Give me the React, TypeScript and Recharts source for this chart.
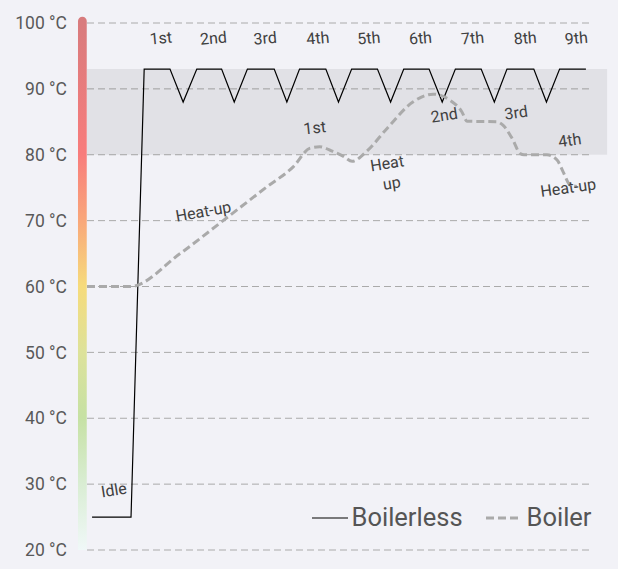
import React from 'react';
import {
  ComposedChart,
  Line,
  XAxis,
  YAxis,
  CartesianGrid,
  ReferenceArea,
  ReferenceDot,
} from 'recharts';

// ---- data ----
const boilerlessTime = [1.0, 8.7, 11.3, 16.4, 19.0, 21.7, 26.6, 29.1, 31.7, 37.0, 39.5, 42.0, 47.2, 49.7, 52.3, 57.4, 60.0, 62.6, 67.6, 70.2, 72.8, 77.9, 80.5, 83.0, 88.3, 90.8, 93.4, 98.6];
const boilerlessTemp = [25, 25, 93, 93, 88, 93, 93, 88, 93, 93, 88, 93, 93, 88, 93, 93, 88, 93, 93, 88, 93, 93, 88, 93, 93, 88, 93, 93];

const boilerTime = [0, 8.5, 18.4, 26.9, 35.5, 40.8, 44.1, 46.0, 48.6, 50.6, 52.4, 55.1, 59.3, 64.4, 68.4, 71.7, 74.1, 75.1, 81.0, 82.2, 84.0, 85.6, 86.4, 90.9, 92.9, 94.1, 95.5, 96.8];
const boilerTemp = [60, 60, 65, 70, 75.1, 78.2, 81, 81.2, 80.5, 79.8, 79, 80.4, 84, 88, 89.2, 88.3, 86.5, 85.1, 85, 84.5, 82.5, 80.2, 80, 80, 79.2, 77.4, 75.4, 75.2];

const tempTicks = [20, 30, 40, 50, 60, 70, 80, 90, 100];

const cycleLabels = ['1st', '2nd', '3rd', '4th', '5th', '6th', '7th', '8th', '9th'];
const cycleLabelTime = [14.6, 25.0, 35.2, 45.6, 55.7, 65.9, 76.2, 86.6, 96.7];
const cycleLabelTemp = 97.7;

const noteTexts = ['Idle', 'Heat-up', '1st', 'Heat', 'up', '2nd', '3rd', '4th', 'Heat-up'];
const noteTime = [5.3, 23.0, 45.0, 59.3, 60.2, 70.6, 84.8, 95.4, 95.1];
const noteTemp = [29.1, 71.4, 84.1, 78.7, 75.7, 86.0, 86.4, 82.2, 75.0];
const noteAngle = [-9, -10, -6, -9, -9, -9, -8, -8, -8];

const seriesNames = ['Boilerless', 'Boiler'];

// shaded brewing band
const bandLow = 80;
const bandHigh = 93;

const boilerlessData = boilerlessTime.map((t, i) => ({ t, v: boilerlessTemp[i] }));
const boilerData = boilerTime.map((t, i) => ({ t, v: boilerTemp[i] }));

const FONT = 'Roboto, "Liberation Sans", sans-serif';

const makeText = (text: string, angle: number, size: number, color: string) => (props: any) => {
  const { cx, cy } = props;
  return (
    <text
      x={cx}
      y={cy}
      textAnchor="middle"
      dominantBaseline="central"
      fontFamily={FONT}
      fontSize={size}
      fill={color}
      transform={`rotate(${angle} ${cx} ${cy})`}
    >
      {text}
    </text>
  );
};

const BarShape = (props: any) => {
  const { x, y, width, height } = props;
  const r = width / 2;
  const d = `M${x},${y + height} L${x},${y + r} A${r},${r} 0 0 1 ${x + width},${y + r} L${x + width},${y + height} Z`;
  return <path d={d} fill="url(#tempBarGrad)" />;
};

const LegendBox = () => (
  <svg
    width={310}
    height={40}
    style={{ position: 'absolute', left: 300, top: 495, overflow: 'visible' }}
  >
    <line x1={12} y1={23} x2={48} y2={23} stroke="#000" strokeWidth={1.2} />
    <text x={51.5} y={30.7} fontFamily={FONT} fontSize={25.5} fill="#555">{seriesNames[0]}</text>
    <line x1={186} y1={23} x2={220} y2={23} stroke="#aaa" strokeWidth={3} strokeDasharray="8 4" />
    <text x={226.5} y={30.7} fontFamily={FONT} fontSize={25.5} fill="#555">{seriesNames[1]}</text>
  </svg>
);

export default function App() {
  return (
    <div style={{ position: 'absolute', left: 0, top: 0, width: 618, height: 569, background: '#f2f2f7' }}>
      <ComposedChart width={618} height={569} margin={{ top: 23, right: 25, bottom: 19, left: 0 }}>
        <defs>
          <linearGradient id="tempBarGrad" x1="0" y1="0" x2="0" y2="1">
            <stop offset="0" stopColor="#d77b7d" />
            <stop offset="0.257" stopColor="#f87c7c" />
            <stop offset="0.382" stopColor="#f9a77a" />
            <stop offset="0.505" stopColor="#f6db7b" />
            <stop offset="0.629" stopColor="#dde29a" />
            <stop offset="0.752" stopColor="#c6e1a4" />
            <stop offset="0.876" stopColor="#d9edd3" />
            <stop offset="1" stopColor="#f0f8f8" />
          </linearGradient>
        </defs>
        <CartesianGrid vertical={false} stroke="#aaa" strokeDasharray="7 4" />
        <ReferenceArea
          x1={0}
          x2={102.8}
          y1={bandLow}
          y2={bandHigh}
          ifOverflow="visible"
          fill="#000"
          fillOpacity={0.065}
          stroke="none"
        />
        <ReferenceArea
          x1={-1.78}
          x2={-0.05}
          y1={20}
          y2={100.96}
          ifOverflow="visible"
          shape={BarShape}
        />
        <XAxis type="number" dataKey="t" domain={[0, 100]} hide allowDataOverflow />
        <YAxis
          type="number"
          domain={[20, 100]}
          ticks={tempTicks}
          width={87}
          axisLine={false}
          tickLine={false}
          tickMargin={14}
          tickFormatter={(v: number) => `${v} °C`}
          tick={{ fontFamily: FONT, fontSize: 17.5, fill: '#595959' }}
        />
        <Line
          data={boilerlessData}
          dataKey="v"
          type="linear"
          stroke="#000"
          strokeWidth={1.2}
          dot={false}
          activeDot={false}
          isAnimationActive={false}
          name={seriesNames[0]}
        />
        <Line
          data={boilerData}
          dataKey="v"
          type="monotoneX"
          stroke="#aaa"
          strokeWidth={3}
          strokeDasharray="8 4"
          dot={false}
          activeDot={false}
          isAnimationActive={false}
          name={seriesNames[1]}
        />
        {cycleLabels.map((c, i) => (
          <ReferenceDot
            key={'c' + i}
            x={cycleLabelTime[i]}
            y={cycleLabelTemp}
            r={0}
            ifOverflow="visible"
            shape={makeText(c, -5, 16, '#404040')}
          />
        ))}
        {noteTexts.map((n, i) => (
          <ReferenceDot
            key={'n' + i}
            x={noteTime[i]}
            y={noteTemp[i]}
            r={0}
            ifOverflow="visible"
            shape={makeText(n, noteAngle[i], 16, '#404040')}
          />
        ))}
      </ComposedChart>
      <LegendBox />
    </div>
  );
}
